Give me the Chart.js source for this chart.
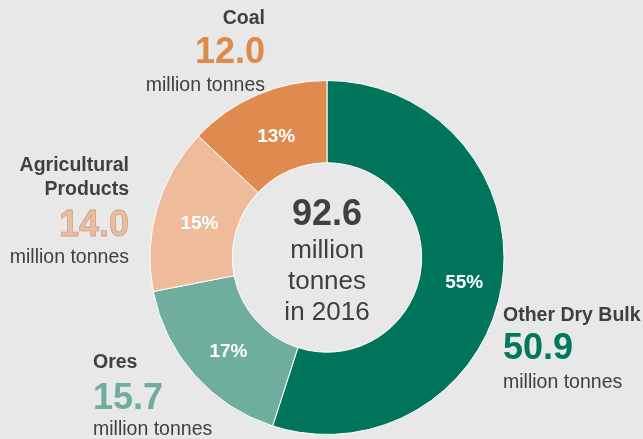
<!DOCTYPE html>
<html>
<head>
<meta charset="utf-8">
<script src="https://cdn.jsdelivr.net/npm/chart.js@4/dist/chart.umd.min.js"></script>
<style>
  html, body { margin: 0; padding: 0; background: #e8e8e8; }
  #wrap { width: 643px; height: 439px; position: relative; }
</style>
</head>
<body>
<div id="wrap"><canvas id="chartCanvas"></canvas></div>
<script>
// ------- Data -------
const categories = ["Other Dry Bulk", "Ores", "Agricultural Products", "Coal"];
const values = [50.9, 15.7, 14.0, 12.0];   // million tonnes, 2016
const year = "2016";
const unit = "million tonnes";

// ------- Style -------
const sliceColors = ["#00755c", "#6fae9f", "#eebc9a", "#df8a4f"];
const valueColors = ["#00785e", "#6fae9f", "#eebc9a", "#e0894c"];
const textGray = "#404040";
const FONT = '"Liberation Sans", Arial, sans-serif';

const total = values.reduce((a, b) => a + b, 0);

// label blocks round the ring: anchor x, alignment, baselines of name line(s), value, unit
const labelLayout = [
  { x: 503, align: "left",  names: [321],      value: 359, unit: 388 },
  { x: 93,  align: "left",  names: [368],      value: 409, unit: 435 },
  { x: 129, align: "right", names: [171, 195], value: 236, unit: 263, lines: ["Agricultural", "Products"] },
  { x: 265, align: "right", names: [24],       value: 63,  unit: 91 },
];

const labelsPlugin = {
  id: "labels",
  afterDraw(chart) {
    const ctx = chart.ctx;
    const meta = chart.getDatasetMeta(0);
    ctx.save();

    // percentages inside slices
    ctx.fillStyle = "#ffffff";
    ctx.font = `bold 19px ${FONT}`;
    ctx.textAlign = "center";
    ctx.textBaseline = "middle";
    meta.data.forEach((arc, i) => {
      const p = arc.tooltipPosition();
      ctx.fillText(Math.round(values[i] / total * 100) + "%", p.x + 3, p.y + 4);
    });

    // centre text
    const cx = meta.data[0].x;
    ctx.textBaseline = "alphabetic";
    ctx.fillStyle = textGray;
    ctx.font = `bold 36px ${FONT}`;
    ctx.fillText(total.toFixed(1), cx, 225);
    ctx.font = `26px ${FONT}`;
    ctx.fillText("million", cx, 258);
    ctx.fillText("tonnes", cx, 289);
    ctx.fillText("in " + year, cx, 320);

    // outside labels
    labelLayout.forEach((l, i) => {
      ctx.textAlign = l.align;
      ctx.fillStyle = textGray;
      ctx.font = `bold 19.5px ${FONT}`;
      const lines = l.lines || [categories[i]];
      lines.forEach((t, k) => ctx.fillText(t, l.x, l.names[k]));

      ctx.font = `bold 36px ${FONT}`;
      ctx.fillStyle = valueColors[i];
      ctx.fillText(values[i].toFixed(1), l.x, l.value);
      if (i === 2) {
        ctx.strokeStyle = "#c9a68c";
        ctx.lineWidth = 0.8;
        ctx.strokeText(values[i].toFixed(1), l.x, l.value);
      }

      ctx.font = `19.5px ${FONT}`;
      ctx.fillStyle = textGray;
      ctx.fillText(unit, l.x, l.unit);
    });
    ctx.restore();
  },
};

new Chart(document.getElementById("chartCanvas"), {
  type: "doughnut",
  data: {
    labels: categories,
    datasets: [{
      data: values,
      backgroundColor: sliceColors,
      borderColor: "#ffffff",
      borderWidth: 1,
      hoverOffset: 0,
    }],
  },
  options: {
    responsive: true,
    maintainAspectRatio: false,
    animation: false,
    cutout: "53.5%",
    layout: { padding: { top: 80, bottom: 4, left: 11, right: 0 } },
    plugins: {
      legend: { display: false },
      tooltip: { enabled: false },
    },
  },
  plugins: [labelsPlugin],
});
</script>
</body>
</html>
